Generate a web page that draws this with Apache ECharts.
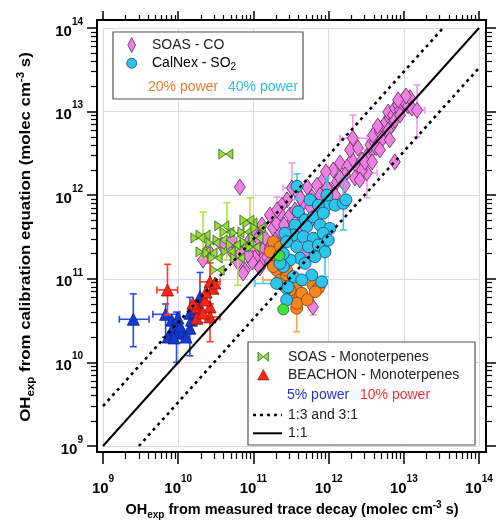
<!DOCTYPE html>
<html><head><meta charset="utf-8">
<script src="https://cdn.jsdelivr.net/npm/echarts@6/dist/echarts.min.js"></script>
<style>html,body{margin:0;padding:0;background:#fff}#c{width:496px;height:520px}</style>
</head><body><div id="c"></div>
<script>
const FONT = '"Liberation Sans", Arial, Helvetica, sans-serif';

// ---------- data ----------
const soasCO = [
 [3.2e12,2.9e12],[3.8e12,3.5e12],[3.6e12,4.0e12],[4.1e12,4.3e12],[4.5e12,4.8e12],[3.9e12,5.2e12],[4.8e12,5.7e12],
 [5.5e12,6.4e12],[4.5e12,6.7e12],[5.8e12,7.5e12],[6.5e12,8.4e12],[6.2e12,9.9e12],[7.2e12,9.1e12],[7.6e12,1.1e13],
 [8.4e12,1.2e13],[8.9e12,1.04e13],[9.8e12,1.38e13],[1.04e13,1.27e13],[1.14e13,1.17e13],[1.21e13,1.46e13],[1.07e13,1.54e13],
 [8.4e12,1.38e13],[7.0e12,6.9e12],[5.6e12,5.2e12],[7.6e12,7.9e12],[1.28e13,1.1e13],[4.3e12,3.7e12],[5.1e12,4.6e12],
 [6.2e12,6.0e12],[8.9e12,9.1e12],[1.5e13,1.04e13],[7.6e12,2.5e12],
 [2.1e12,4.8e12],[3.24e12,1.85e12],[2.05e12,2.64e12],[1.42e12,2.43e12],[1.15e12,2.0e12],[1.76e12,2.17e12],[1.29e12,1.44e12],
 [8.4e11,1.52e12],[1.04e12,1.15e12],[7.0e11,1.32e12],[5.2e11,1.25e12],[6.0e11,9.5e11],[4.6e11,8.1e11],[3.8e11,1.09e12],
 [3.26e11,1.22e12],[2.8e11,8.8e11],[1.65e12,1.75e12],[2.46e12,2.11e12],[2.78e12,2.64e12],[1.42e12,1.61e12],[9.2e11,1.9e12],
 [1.65e12,1.32e12],[2.24e12,1.61e12],[2.78e12,2.0e12],[1.93e12,3.48e12],[2.46e12,3.67e12],[3.05e12,2.49e12],[1.22e12,1.0e12],
 [7.7e11,1.0e12],[4.2e11,9.3e11],[2.4e11,7.6e11],[1.66e11,5.8e11],[1.3e11,4.4e11],[1.05e11,3.63e11],[1.43e11,2.54e11],
 [2.26e11,3.63e11],[3.07e11,4.4e11],[4.2e11,5.8e11],[5.7e11,7.2e11],[9.5e11,1.22e12],[3.8e12,2.5e12],[4.8e12,3.48e12],
 [6.5e12,4.6e12],[2.6e12,1.52e12],[6.2e10,1.59e11],[5.2e10,2.1e11],[3.8e10,2.54e11],
 [1.12e11,2.21e11],[1.34e11,2.21e11],[1.66e11,2.33e11],[1.3e11,1.68e11],[1.05e11,1.77e11],[1.52e11,1.82e11],[1.82e11,4.06e11],
 [2.06e11,4.65e11],[2.8e11,3.16e11],[7.7e10,1.27e11],[7.3e10,1.17e11],[2.49e10,2.21e11],[2.14e10,1.68e11],[5.2e10,2.91e11],
 [7.0e10,2.21e11],[9.0e10,2.91e11],[1.15e11,3.08e11],[1.43e11,3.08e11],[9.6e10,1.59e11],[1.22e11,1.35e11],[1.66e11,1.59e11],
 [2.26e11,6.1e11],[2.06e11,6.65e11],[2.55e11,4.4e11],[3.07e11,5.8e11],[3.57e11,6.65e11],[1.94e11,2.91e11],[8.5e10,1.93e11],
 [4.2e11,3.84e11],[6.6e11,2.91e11],[9.0e11,2.21e11],[4.9e11,1.93e11],[5.7e11,4.8e11],[8.2e11,6.3e11],
 [6.6e10,1.25e12],[6.2e11,4.6e10]
];
// [x, y, xLow, xHigh, yLow, yHigh]  (0 = no bar)
const soasCOErr = [
 [1.5e13,1.04e13,1.09e13,1.91e13,4.97e12,2.08e13],
 [2.1e12,4.8e12,1.42e12,3.24e12,2.43e12,9.1e12],
 [3.24e12,1.85e12,2.24e12,4.4e12,9.3e11,3.5e12],
 [3.26e11,1.22e12,2.48e11,4.86e11,8.8e11,2.43e12],
 [2.06e11,6.65e11,0,0,4.6e11,9.5e11],
 [6.2e11,4.6e10,0,0,3.7e10,6.0e10]
];
const soasMT = [
 [2.14e10,3.34e11],[4.45e10,3.63e11],[9.0e10,4.65e11],[2.14e10,2.1e11],[3.6e10,2.91e11],[6.05e10,3.53e11],[7.0e10,2.4e11],
 [4.6e10,2.1e11],[3.3e10,1.27e11],[6.2e10,1.77e11],[8.2e10,2.75e11],[9.9e10,2.4e11],[2.65e10,2.04e11],[2.9e10,2.68e11],
 [4.3e10,3.1e12],[5.4e10,2.54e11],[7.7e10,3.63e11],[1.08e11,3.08e11],[3.1e10,1.77e11],[1.15e11,4.06e11],[3.8e10,4.3e11],
 [1.83e10,3.08e11],[8.2e10,5.05e11]
];
const soasMTErr = [
 [2.14e10,3.34e11,0,0,1.77e11,6.3e11],
 [4.45e10,3.63e11,0,0,1.68e11,8.1e11],
 [9.0e10,4.65e11,0,0,2.3e11,9.3e11],
 [6.2e10,1.77e11,0,0,8.4e10,3.16e11]
];
const calnex40 = [
 [5.66e11,8.8e11],[9.4e11,7.6e11],[1.22e12,7.6e11],[1.57e12,8.0e11],[7.3e11,7.6e11],[3.95e11,6.35e11],[4.86e11,5.05e11],
 [6.26e11,5.5e11],[8.5e11,6.1e11],[3.57e11,4.4e11],[5.1e11,4.2e11],[7.7e11,4.4e11],[1.04e12,4.0e11],[3.4e11,3.34e11],
 [4.6e11,3.2e11],[6.26e11,3.05e11],[8.5e11,3.5e11],[9.9e11,2.9e11],[2.63e11,3.5e11],[2.77e11,2.78e11],[3.77e11,2.42e11],
 [5.4e11,2.42e11],[7.3e11,2.54e11],[8.96e11,2.1e11],[4.17e11,1.76e11],[3.07e11,1.68e11],[6.6e11,1.84e11],[2.5e11,1.4e11],
 [5.97e11,1.11e11],[8.1e11,9.2e10],[3.4e11,1.06e11],[2.77e11,7.7e10],[2.5e11,2.0e11],[2.04e11,8.8e10],[2.9e11,8.0e10],
 [2.77e11,5.6e10],[4.4e11,9.7e10],[4.86e11,1.53e11],[2.26e11,1.53e11],[3.8e11,1.28e12],[9.5e11,1.0e12],[1.7e12,8.8e11]
];
const calnex40Err = [
 [1.57e12,8.0e11,0,0,3.84e11,1.61e12],
 [8.96e11,2.1e11,0,0,1.06e11,4.2e11],
 [2.04e11,8.8e10,1.05e11,3.0e11,0,0],
 [3.8e11,1.28e12,0,0,9.0e11,1.8e12],
 [9.5e11,1.0e12,0,0,6.0e11,1.6e12]
];
const calnex20 = [
 [2.04e11,1.27e11],[2.26e11,9.7e10],[2.77e11,1.11e11],[3.77e11,8.8e10],[3.4e11,6.4e10],[4.17e11,6.1e10],[3.77e11,4.44e10],
 [4.4e11,6.7e10],[6.3e11,8.4e10],[7.3e11,7.7e10],[6.65e11,7.0e10],[2.26e11,1.84e11],[2.04e11,1.53e11],[1.84e11,2.78e11],
 [2.26e11,2.4e11],[2.77e11,1.27e11],[3.77e11,5.1e10],[1.84e11,1.4e11],[1.66e11,2.1e11],[3.07e11,7.35e10],[5.2e11,5.6e10]
];
const calnex20Err = [
 [3.77e11,4.44e10,0,0,2.33e10,7.0e10],
 [6.3e11,8.4e10,3.07e11,9.0e11,0,0],
 [2.26e11,9.7e10,1.34e11,3.5e11,0,0]
];
const calnexOther = [[2.5e11,4.3e10],[2.2e11,1.9e11]];
const beachon5 = [
 [2.53e9,3.28e10],[6.8e9,3.76e10],[8.2e9,3.2e10],[8.2e9,2.44e10],[9.5e9,2.24e10],[1.17e10,2.24e10],[1.43e10,2.56e10],
 [1.5e10,3.2e10],[1.85e10,4.87e10],[1.95e10,6.1e10],[1.43e10,3.87e10],[1.06e10,2.72e10],[1.27e10,2.01e10],[7.3e9,2.01e10],
 [1.67e10,4.0e10],[9.9e9,3.4e10],[8.8e9,1.96e10]
];
const beachon5Err = [
 [2.53e9,3.28e10,1.65e9,4.1e9,1.54e10,6.6e10],
 [6.8e9,3.76e10,4.6e9,1.05e10,2.0e10,5.0e10],
 [9.5e9,2.24e10,0,0,1.0e10,4.0e10],
 [1.95e10,6.1e10,0,0,3.0e10,1.19e11],
 [1.43e10,3.87e10,0,0,1.2e10,6.0e10]
];
const beachon10 = [
 [7.2e9,7.35e10],[1.76e10,4.6e10],[2.05e10,4.0e10],[2.65e10,4.6e10],[1.76e10,3.37e10],[2.65e10,3.5e10],[2.65e10,9.2e10],
 [2.9e10,7.7e10],[2.27e10,5.57e10],[2.14e10,3.9e10],[3.08e10,8.9e10],[2.35e10,6.95e10],[1.57e10,5.1e10]
];
const beachon10Err = [
 [7.2e9,7.35e10,5.2e9,9.8e9,3.7e10,1.49e11],
 [2.65e10,3.5e10,2.27e10,3.6e10,1.77e10,5.0e10],
 [2.65e10,9.2e10,1.94e10,3.6e10,5.0e10,1.55e11]
];
const oneToOne   = [[1e9,1e9],[1e14,1e14]];
const threeToOne = [[1e9,3e9],[3.33e13,1e14]];
const oneToThree = [[3e9,1e9],[1e14,3.33e13]];
const axisMin = 1e9, axisMax = 1e14;

// ---------- styles ----------
const C = {
  pink:'#ee80e2', pinkEdge:'#5e2a5c', pinkErr:'#f19ae8',
  cyan:'#2fc4ea', cyanEdge:'#17466e', cyanErr:'#3ccbf0',
  orange:'#f7861e', orangeEdge:'#7a4212', orangeErr:'#f3a64a',
  green:'#9cd83e', greenEdge:'#2c6a1c', greenErr:'#b3e341',
  lime:'#3ee23a',
  blue:'#1438d6', blueEdge:'#0c1f80', blueErr:'#2450e2',
  red:'#ff2414', redEdge:'#8c1008', redErr:'#ff3a2a'
};
const BOWTIE = 'path://M0,0L10,5L0,10Z M20,0L10,5L20,10Z';

function errSeries(data, color, z) {
  return {
    type:'custom', data:data, z:z, silent:true, clip:false,
    encode:{x:0, y:1},
    renderItem:function(params, api){
      const x = api.value(0), y = api.value(1);
      const xl = api.value(2), xh = api.value(3), yl = api.value(4), yh = api.value(5);
      const st = {stroke:color, lineWidth:1.6, fill:'none'};
      const cap = 3.5, ch = [];
      function ln(x1,y1,x2,y2){ ch.push({type:'line', shape:{x1:x1,y1:y1,x2:x2,y2:y2}, style:st}); }
      if (xl > 0 && xh > 0) {
        const a = api.coord([xl, y]), b = api.coord([xh, y]);
        ln(a[0],a[1],b[0],b[1]); ln(a[0],a[1]-cap,a[0],a[1]+cap); ln(b[0],b[1]-cap,b[0],b[1]+cap);
      }
      if (yl > 0 && yh > 0) {
        const a = api.coord([x, yl]), b = api.coord([x, yh]);
        ln(a[0],a[1],b[0],b[1]); ln(a[0]-cap,a[1],a[0]+cap,a[1]); ln(b[0]-cap,b[1],b[0]+cap,b[1]);
      }
      return {type:'group', children:ch};
    }
  };
}
function scat(data, symbol, size, fill, edge, z) {
  return {type:'scatter', data:data, symbol:symbol, symbolSize:size, z:z, silent:true,
    itemStyle:{color:fill, borderColor:edge, borderWidth:0.8, opacity:1}};
}
function refLine(data, dashed, z) {
  return {type:'line', data:data, symbol:'none', z:z, silent:true,
    lineStyle:{color:'#000', width: dashed ? 2.6 : 2, type: dashed ? [3,4] : 'solid'}};
}

const labelRich = {
  b:{fontFamily:FONT, fontSize:15, fontWeight:'bold', color:'#000', lineHeight:22, verticalAlign:'bottom'},
  s:{fontFamily:FONT, fontSize:10, fontWeight:'bold', color:'#000', lineHeight:11, verticalAlign:'top'}
};
function expLabel(v){ return '{b|10}{s|' + Math.round(Math.log10(v)) + '}'; }

function mkX(pos, off, major, minor, labels) {
  return {type:'log', logBase:10, min:axisMin, max:axisMax, position:pos, offset:off,
    axisLine:{show:false},
    axisTick:{show:true, inside:false, length:major, lineStyle:{color:'#000', width:1.5}},
    minorTick:{show:true, splitNumber:9, length:minor, lineStyle:{color:'#000', width:1.2}},
    splitLine:{show:labels, lineStyle:{color:'#d8d8ee', width:1}},
    axisLabel:{show:labels, margin:22, formatter:expLabel, rich:labelRich}};
}
function mkY(pos, off, major, minor, labels) {
  return {type:'log', logBase:10, min:axisMin, max:axisMax, position:pos, offset:off,
    axisLine:{show:false},
    axisTick:{show:true, inside:false, length:major, lineStyle:{color:'#000', width:1.5}},
    minorTick:{show:true, splitNumber:9, length:minor, lineStyle:{color:'#000', width:1.2}},
    splitLine:{show:labels, lineStyle:{color:'#d8d8ee', width:1}},
    axisLabel:{show:labels, margin:14, formatter:expLabel, rich:labelRich}};
}

const titleRich = {
  b:{fontFamily:FONT, fontSize:14.5, fontWeight:'bold', color:'#000', lineHeight:20, verticalAlign:'middle'},
  sub:{fontFamily:FONT, fontSize:10, fontWeight:'bold', color:'#000', lineHeight:9, verticalAlign:'bottom'},
  sup:{fontFamily:FONT, fontSize:10, fontWeight:'bold', color:'#000', lineHeight:9, verticalAlign:'top'}
};
const legRich = {
  a:{fontFamily:FONT, fontSize:14, color:'#222', lineHeight:18, verticalAlign:'middle'},
  s:{fontFamily:FONT, fontSize:10, color:'#222', lineHeight:8, verticalAlign:'bottom'}
};
function txt(x, y, text, color, extra) {
  return Object.assign({type:'text', x:x, y:y, z:200,
    style:{text:text, fill:color, font:'14px ' + FONT, verticalAlign:'middle', align:'left'}}, extra || {});
}
const G = [];
// frame
G.push({type:'rect', z:150, shape:{x:97, y:20, width:389, height:432}, style:{fill:'none', stroke:'#000', lineWidth:2}});
// upper legend
G.push({type:'rect', z:190, shape:{x:113, y:32, width:190, height:67}, style:{fill:'#fff', stroke:'#555', lineWidth:1.2}});
G.push({type:'polygon', z:200, shape:{points:[[131.7,37.5],[135.6,45],[131.7,52.5],[127.8,45]]}, style:{fill:C.pink, stroke:C.pinkEdge, lineWidth:0.8}});
G.push({type:'circle', z:200, shape:{cx:131.7, cy:63.3, r:5}, style:{fill:C.cyan, stroke:C.cyanEdge, lineWidth:0.8}});
G.push(txt(152, 45, 'SOAS - CO', '#222'));
G.push({type:'text', x:152, y:63.3, z:200, style:{text:'{a|CalNex - SO}{s|2}', rich:legRich, verticalAlign:'middle', align:'left'}});
G.push(txt(148, 86.7, '20% power', '#f07a30'));
G.push(txt(228, 86.7, '40% power', '#2ec0ea'));
// lower legend
G.push({type:'rect', z:190, shape:{x:248, y:342, width:227, height:103}, style:{fill:'#fff', stroke:'#555', lineWidth:1.2}});
G.push({type:'polygon', z:200, shape:{points:[[258,352.2],[263.3,356.7],[258,361.2]]}, style:{fill:C.green, stroke:C.greenEdge, lineWidth:0.8}});
G.push({type:'polygon', z:200, shape:{points:[[268.6,352.2],[263.3,356.7],[268.6,361.2]]}, style:{fill:C.green, stroke:C.greenEdge, lineWidth:0.8}});
G.push({type:'polygon', z:200, shape:{points:[[263.3,369.5],[269,380],[257.6,380]]}, style:{fill:C.red, stroke:C.redEdge, lineWidth:0.6}});
G.push(txt(288, 356.7, 'SOAS - Monoterpenes', '#222'));
G.push(txt(288, 375, 'BEACHON - Monoterpenes', '#222'));
G.push(txt(287, 395, '5% power', '#2a30d2'));
G.push(txt(360, 395, '10% power', '#f03434'));
G.push({type:'line', z:200, shape:{x1:253, y1:415, x2:282, y2:415}, style:{stroke:'#000', lineWidth:2.4, lineDash:[3,4]}});
G.push({type:'line', z:200, shape:{x1:253, y1:433.3, x2:282, y2:433.3}, style:{stroke:'#000', lineWidth:2}});
G.push(txt(288, 415, '1:3 and 3:1', '#222'));
G.push(txt(288, 433.3, '1:1', '#222'));
// axis titles
G.push({type:'text', z:200, x:292, y:510, style:{text:'{b|OH}{sub|exp}{b| from measured trace decay (molec cm}{sup|-3}{b| s)}', rich:titleRich, align:'center', verticalAlign:'middle'}});
G.push({type:'text', z:200, x:26, y:237, rotation:Math.PI/2, scaleX:1.16, style:{text:'{b|OH}{sub|exp}{b| from calibration equation (molec cm}{sup|-3}{b| s)}', rich:titleRich, align:'center', verticalAlign:'middle'}});

const chart = echarts.init(document.getElementById('c'), null, {renderer:'canvas', width:496, height:520});
chart.setOption({
  animation:false,
  backgroundColor:'#fff',
  grid:{left:103, top:28, width:376, height:418, containLabel:false},
  xAxis:[mkX('bottom', 6, 12, 7, true), mkX('top', 8, 9, 5, false)],
  yAxis:[mkY('left', 6, 10, 6, true), mkY('right', 7, 10, 6, false)],
  series:[
    errSeries(soasCOErr, C.pinkErr, 3),
    scat(soasCO, 'diamond', [11,16], C.pink, C.pinkEdge, 4),
    errSeries(soasMTErr, C.greenErr, 5),
    scat(soasMT, BOWTIE, [14,10], C.green, C.greenEdge, 6),
    errSeries(calnex20Err, C.orangeErr, 7),
    scat(calnex20, 'circle', 12, C.orange, C.orangeEdge, 8),
    errSeries(calnex40Err, C.cyanErr, 9),
    scat(calnex40, 'circle', 12, C.cyan, C.cyanEdge, 10),
    scat(calnexOther, 'circle', 11, C.lime, '#1d6a1a', 11),
    errSeries(beachon5Err, C.blueErr, 12),
    scat(beachon5, 'triangle', 12, C.blue, C.blueEdge, 13),
    errSeries(beachon10Err, C.redErr, 14),
    scat(beachon10, 'triangle', 12, C.red, C.redEdge, 15),
    refLine(oneToOne, false, 20),
    refLine(threeToOne, true, 20),
    refLine(oneToThree, true, 20)
  ],
  graphic:G
});
</script>
</body></html>
